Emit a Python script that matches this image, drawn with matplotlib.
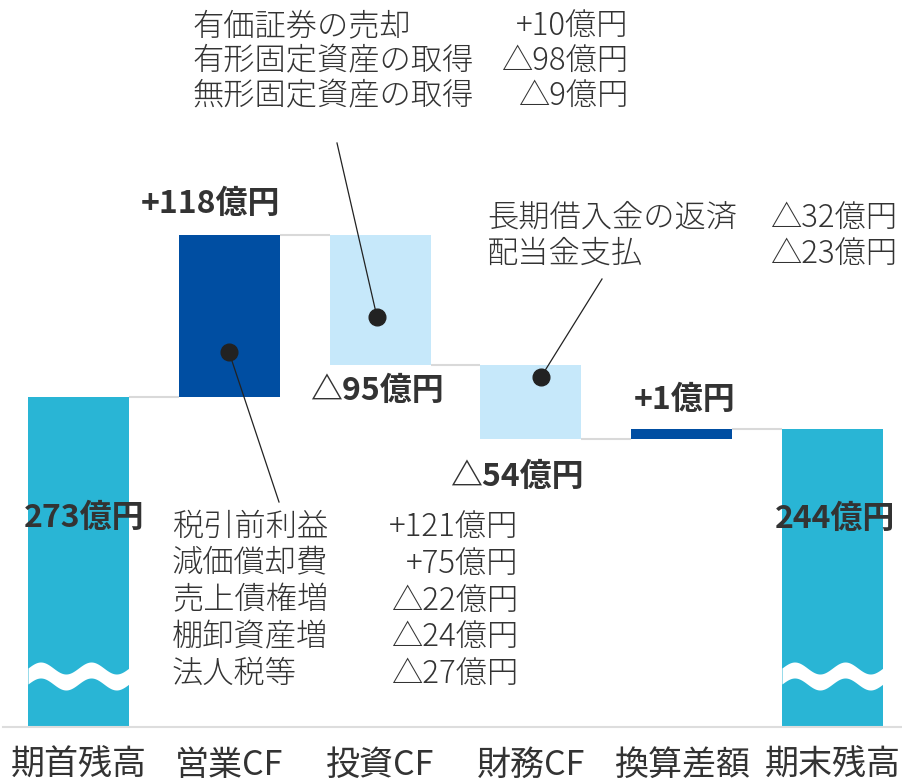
import numpy as np
import matplotlib
matplotlib.use('Agg')
import matplotlib.pyplot as plt

plt.rcParams['font.family'] = ['Noto Sans CJK JP', 'DejaVu Sans']

# Data
categories = ['期首残高', '営業CF', '投資CF', '財務CF', '換算差額', '期末残高']
values = [273, 118, -95, -54, 1, 244]
is_total = [True, False, False, False, False, True]

op_items = ['税引前利益', '減価償却費', '売上債権増', '棚卸資産増', '法人税等']
op_vals = [121, 75, -22, -24, -27]
inv_items = ['有価証券の売却', '有形固定資産の取得', '無形固定資産の取得']
inv_vals = [10, -98, -9]
fin_items = ['長期借入金の返済', '配当金支払']
fin_vals = [-32, -23]

# colours
C_TOTAL = '#29B5D5'
C_UP = '#004EA2'
C_DOWN = '#C6E8FA'
C_LINK = '#d9d9d9'
C_TEXT = '#333333'


def fmt(v, sign=True):
    if not sign:
        return f'{v}億円'
    return f'+{v}億円' if v > 0 else f'△{-v}億円'


# figure geometry (pixels -> data helpers for text placement)
W, H = 903, 783
AX_L, AX_B = 3, 56                      # axes spans px x 3..903, y 0..727
Y0, PXU = 32.1, 1.37                    # axis bottom value, px per unit
X_C0, X_STEP = 78.5, 150.8


def px_x(px):
    return (px - X_C0) / X_STEP


def px_y(py):
    return Y0 + (727 - py) / PXU


fig = plt.figure(figsize=(W / 100, H / 100), dpi=100)
ax = fig.add_axes([AX_L / W, AX_B / H, (W - AX_L) / W, 727 / H])
ax.set_xlim(px_x(AX_L), px_x(W))
ax.set_ylim(Y0, px_y(0))

bar_w = 0.67
min_h = 7.3   # smallest drawn height for tiny changes

# waterfall
level = 0
bottoms, heights, colors, tops = [], [], [], []
for v, tot in zip(values, is_total):
    if tot:
        if level == 0:
            level = v
        b, h, c = Y0, level - Y0, C_TOTAL
    else:
        dh = max(abs(v), min_h)
        if v >= 0:
            b, h, c = level, dh, C_UP
            level += dh
        else:
            level -= dh
            b, h, c = level, dh, C_DOWN
    bottoms.append(b)
    heights.append(h)
    colors.append(c)
    tops.append(level)

x = np.arange(len(categories))
ax.bar(x, heights, bottom=bottoms, width=bar_w, color=colors, zorder=2, linewidth=0)

# connectors
for i in range(len(x) - 1):
    ax.plot([x[i] + bar_w / 2, x[i + 1] - bar_w / 2], [tops[i], tops[i]],
            color=C_LINK, lw=1.5, zorder=1, solid_capstyle='butt')

# broken-axis waves on the total bars
wave_c, amp, thick = px_y(676), 6 / PXU, 16 / PXU
for i in [0, 5]:
    xs = np.linspace(x[i] - bar_w / 2, x[i] + bar_w / 2, 300)
    yc = wave_c + amp * np.sin(2 * np.pi * (xs - xs[0]) / (bar_w / 2))
    ax.fill_between(xs, yc - thick / 2, yc + thick / 2, color='white', lw=0, zorder=3)

# value labels (offsets in px from anchor)
lab_anchor = [tops[0], tops[1], bottoms[2], bottoms[3], tops[4], tops[5]]
lab_off = [(6, -121), (-19, 31), (-3.5, -26), (-14.5, -38), (2.5, 29), (2.5, -90)]
for i, v in enumerate(values):
    dx, dy = lab_off[i]
    ax.annotate(fmt(v, sign=not is_total[i]), xy=(x[i], lab_anchor[i]),
                xytext=(dx * 0.72, dy * 0.72), textcoords='offset points',
                ha='center', va='center', fontsize=23, fontweight='bold',
                color=C_TEXT, zorder=5)

# breakdown blocks
ann_fs = 22.5


def block(items, vals, left_px, right_px, top_py, step):
    for k, (name, v) in enumerate(zip(items, vals)):
        yy = px_y(top_py + k * step)
        ax.text(px_x(left_px), yy, name, ha='left', va='center',
                fontsize=ann_fs, color=C_TEXT, fontweight='light', zorder=5)
        ax.text(px_x(right_px), yy, fmt(v), ha='right', va='center',
                fontsize=ann_fs, color=C_TEXT, fontweight='light', zorder=5)


block(op_items, op_vals, 172, 518, 527, 36.8)
block(inv_items, inv_vals, 192, 628, 26, 35)
block(fin_items, fin_vals, 487, 897, 218, 36)

# leader lines with dots
leaders = [((px_x(229), px_y(352)), (px_x(279), px_y(502))),
           ((px_x(377), px_y(317)), (px_x(337), px_y(143))),
           ((px_x(541), px_y(377)), (px_x(602), px_y(279)))]
for (dx_, dy_), (ex, ey) in leaders:
    ax.plot([dx_, ex], [dy_, ey], color='#222222', lw=0.9, zorder=4)
    ax.plot(dx_, dy_, 'o', color='#222222', ms=12, zorder=4)

# axes styling
for s in ['top', 'left', 'right']:
    ax.spines[s].set_visible(False)
ax.spines['bottom'].set_color('#dddddd')
ax.spines['bottom'].set_linewidth(1.5)
ax.set_yticks([])
ax.set_xticks(x, categories)
ax.tick_params(axis='x', length=0, pad=15, labelsize=24.5, labelcolor=C_TEXT)

fig.savefig('out.png', dpi=100)
